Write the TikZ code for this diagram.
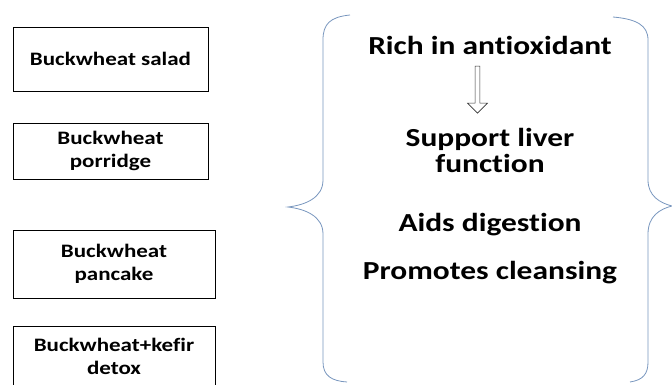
\documentclass[tikz,border=0pt]{standalone}
\usepackage{fontspec}
\setmainfont[FakeStretch=1.21,Ligatures=NoCommon]{Carlito}
\usetikzlibrary{shapes.arrows}
\definecolor{bracecol}{RGB}{120,150,190}

\begin{document}
\begin{tikzpicture}[x=1pt,y=-1pt,
  dish/.style={draw, thick, minimum height=#1, align=center, font=\bfseries\fontsize{19}{23}\selectfont},
  benefit/.style={align=center, font=\bfseries\fontsize{26}{26}\selectfont},
  brace/.style={draw=bracecol, thick}]
\useasboundingbox (0,0) rectangle (672,385);
% dishes
\node [dish=64pt, minimum width=195pt] (salad) at (110.5,59) {Buckwheat salad};
\node [dish=56pt, minimum width=195pt] (porridge) at (110.5,151) {Buckwheat\\porridge};
\node [dish=68pt, minimum width=202pt] (pancake) at (114,264) {Buckwheat\\pancake};
\node [dish=60pt, minimum width=202pt] (kefir) at (114,356) {Buckwheat+kefir\\detox};
% braces
\draw [brace] (350,15) .. controls (330,17) and (323,24) .. (323,40)
  -- (323,180) .. controls (323,198) and (305,205) .. (288,207)
  .. controls (305,209) and (323,216) .. (323,234)
  -- (323,362) .. controls (323,376) and (332,381) .. (347,382);
\draw [brace] (613,17) .. controls (636,19) and (648,25) .. (648,40)
  -- (648,180) .. controls (648,196) and (660,203) .. (672,206)
  .. controls (660,209) and (648,216) .. (648,234)
  -- (648,362) .. controls (648,374) and (643,380) .. (630,382);
% benefits
\node [benefit] (rich) at (490,45) {Rich in antioxidant};
\node [benefit] (liver) at (490,150) {Support liver\\function};
\node [benefit] (aids) at (490,225) {Aids digestion};
\node [benefit] (cleanse) at (490,273) {Promotes cleansing};
\node [single arrow, draw=black!80, semithick, shape border rotate=270, minimum width=20pt,
  minimum height=47pt, single arrow head extend=6pt, single arrow head indent=0pt,
  inner sep=1.5pt] (down) at (477.5,88.5) {};
\end{tikzpicture}
\end{document}
